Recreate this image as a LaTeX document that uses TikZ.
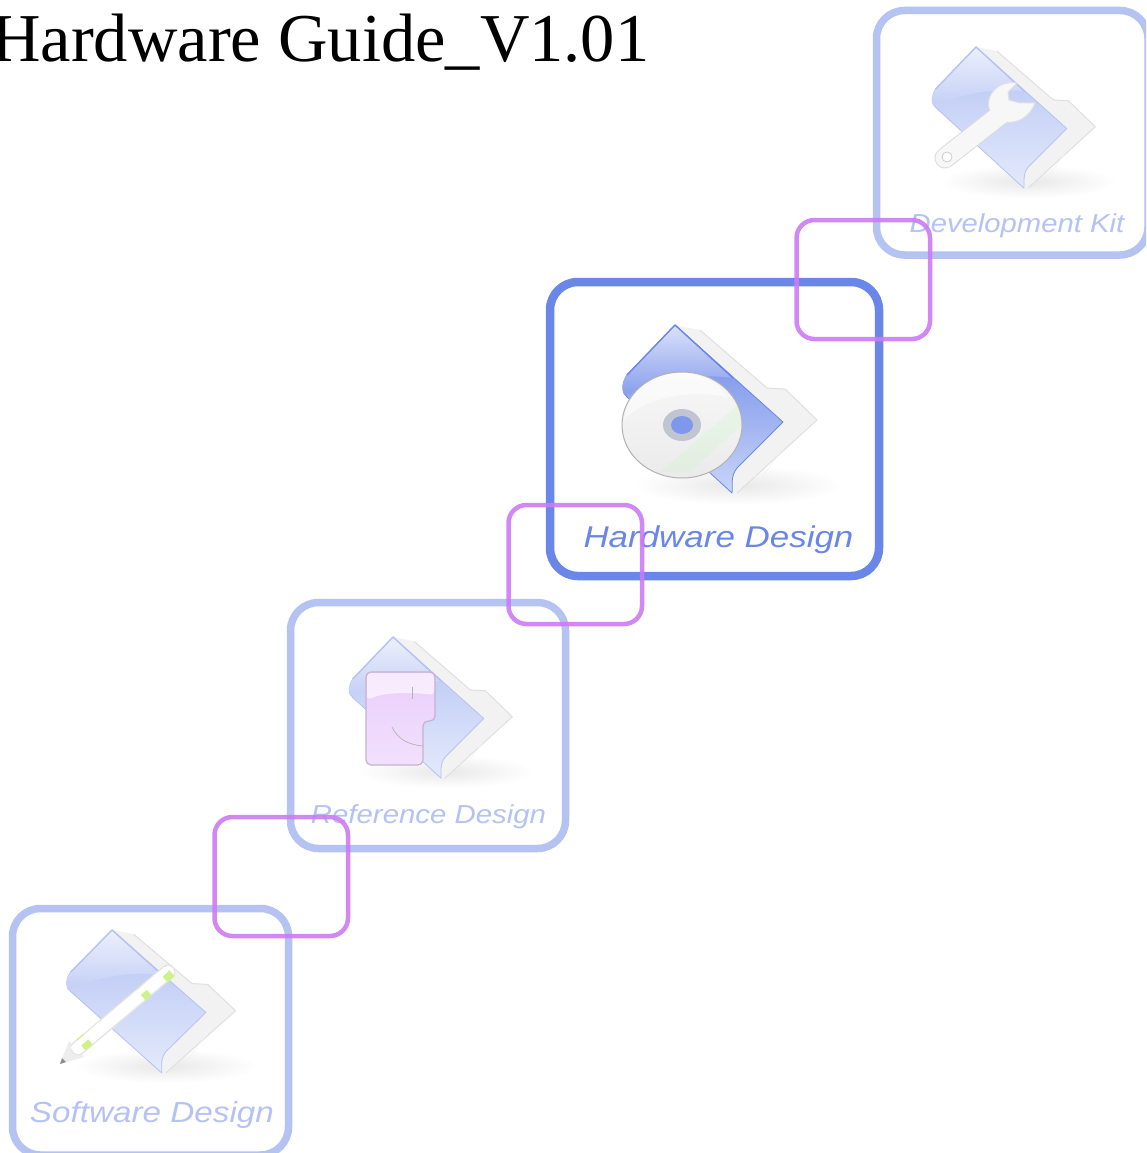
\documentclass[tikz,border=0pt]{standalone}
\usepackage{graphicx}
\usepackage{fontspec}
\setmainfont{Liberation Serif}
\newfontfamily\labelfont{Liberation Sans}
\usetikzlibrary{shadings}
\definecolor{framecol}{HTML}{6A86E8}
\definecolor{magentaline}{HTML}{CC7CF5}
\definecolor{glosslight}{HTML}{C9D5F7}
\definecolor{finderfill}{HTML}{D9A6F8}
\definecolor{pengreen}{HTML}{B8EE55}
\tikzset{
  frameBox/.style={draw=framecol!#1!white,rounded corners=28pt,inner sep=0pt,outer sep=0pt,fill=white},
  linkBox/.style={draw=magentaline,line width=4.5pt,rounded corners=18pt,inner sep=0pt,outer sep=0pt,opacity=.9},
  iconLabel/.style={font=\labelfont\itshape,inner sep=0pt,anchor=base},
  pics/folder/.style={code={
    \def\fv{#1}
    % ground shadow
    \shade[inner color=black!9!white,outer color=white] (62,160) ellipse [x radius=105pt,y radius=20pt];
    % paper sheets
    \fill[white!95!black] (0,0) -- (25,5) -- (92,63) -- (110,64) -- (142,95) -- (62,168) -- (57,168) -- cycle;
    \draw[black!12!white,line width=1pt] (25,5) -- (92,63) -- (110,64) -- (142,95) -- (62,168);
    \foreach \k in {1,...,5}{\draw[black!5!white,line width=.5pt] (100+\k*6,64+\k*6) -- (55+\k*6,140+\k*3);}
    % folder front
    \shade[top color=framecol!\fv!white,middle color=framecol!\fv!white,bottom color=glosslight!\fv!white,draw=framecol!\fv!white,line width=.8pt,line join=round]
      (0,0) -- (108,97) -- (62,143) .. controls (55,152) and (58,160) .. (57,168) -- (-48,72) .. controls (-54,66) and (-53,58) .. (-48,50) -- cycle;
    % gloss on the folder
    \shade[top color=glosslight!70!white!\fv!white,bottom color=framecol!80!white!\fv!white,line join=round]
      (0,0) -- (58,53) .. controls (25,48) and (-15,55) .. (-51,70) .. controls (-54,64) and (-53,58) .. (-48,50) -- cycle;
    \draw[framecol!\fv!white,line width=1.4pt,line join=round] (-48,50) -- (0,0) -- (58,53);
  }}
}
\begin{document}
\begin{tikzpicture}[x=1pt,y=-1pt]
\clip (0,0) rectangle (1146,1153);
\fill[white] (0,0) rectangle (1146,1153);

% title
\node[font=\fontsize{68.5}{68.5}\selectfont,anchor=base west,inner sep=0pt] (title) at (-9,62) {Hardware Guide\_V1.01};

% frames
\node[frameBox=50,line width=7.5pt,minimum width=271.5pt,minimum height=244.5pt] (devframe) at (1012.25,132.75) {};
\node[frameBox=100,line width=8.5pt,minimum width=329pt,minimum height=294pt] (hwframe) at (714.5,429) {};
\node[frameBox=50,line width=7.5pt,minimum width=275pt,minimum height=246pt] (refframe) at (428,725.5) {};
\node[frameBox=50,line width=7.5pt,minimum width=276pt,minimum height=246.5pt] (swframe) at (150.5,1031.75) {};

% folders
\pic[shift={(675,325)}] {folder=100};
\pic[shift={(976,47)},xscale=.84,yscale=.84] {folder=50};
\pic[shift={(393,637)},xscale=.84,yscale=.84] {folder=50};
\pic[shift={(112,930)},xscale=.87,yscale=.85] {folder=50};

% disc
\shade[top color=white!97!black,bottom color=black!8!white,draw=black!30!white,line width=1pt] (682,425) ellipse [x radius=60pt,y radius=53pt];
\fill[white,opacity=.5] (624,420) .. controls (650,392) and (705,390) .. (728,398) .. controls (715,380) and (700,374) .. (682,373) .. controls (650,373) and (628,392) .. (624,420) -- cycle;
\fill[green!30!white,opacity=.15] (738,405) -- (742,425) -- (690,472) -- (660,472) -- cycle;
\fill[framecol!45!black!30!white] (682,425) ellipse [x radius=19pt,y radius=16pt];
\fill[framecol!85!white] (682,425) ellipse [x radius=11pt,y radius=9pt];

% wrench
\draw[black!14!white,line width=21pt,line cap=round] (945,158) -- (1000,115);
\fill[white!97!black,draw=black!12!white,line width=1pt] (1017,83) .. controls (998,80) and (984,95) .. (990,112) .. controls (998,127) and (1026,127) .. (1035,103) -- (1020,103) -- (1009,100) -- (1008,92) -- cycle;
\draw[white!97!black,line width=19pt,line cap=round] (945,158) -- (1000,115);
\draw[black!20!white,line width=.8pt,fill=white] (947,157) circle [radius=5pt];

% finder face
\shade[top color=finderfill!55!white,bottom color=finderfill!35!white,draw=finderfill!50!gray!70!white,line width=1.2pt,rounded corners=5pt]
  (366,672) -- (435,672) -- (435,721) -- (423,721) -- (423,765) -- (366,765) -- cycle;
\fill[white,opacity=.6,rounded corners=4pt] (367,673) -- (434,673) -- (434,695) .. controls (410,692) and (385,692) .. (367,700) -- cycle;
\draw[black!30!white,line width=1pt] (412,687) -- (412,699);
\draw[black!30!white,line width=.7pt] (392,727) .. controls (398,740) and (410,745) .. (423,746);

% pen
\fill[white!93!black] (60,1064) -- (69,1041) -- (84,1057) -- cycle;
\fill[black!45!white] (60,1064) -- (62,1058) -- (66,1062) -- cycle;
\draw[black!10!white,line width=15pt,line cap=round] (78,1048) -- (168,972);
\draw[white,line width=12pt,line cap=round] (78,1048) -- (168,972);
\foreach \a/\b/\c/\d in {81/1045/88/1039,141/995/147/990,163/977/170/971}{
  \draw[pengreen!70!white,line width=14pt] (\a,\b) -- (\c,\d);
}
\draw[white,line width=6pt,line cap=round] (74,1047.5) -- (166,969.5);

% labels
\node[iconLabel,text=framecol,font=\labelfont\itshape\fontsize{30}{30}\selectfont] (hwlabel) at (718.5,547) {\scalebox{1.165}[1]{Hardware Design}};
\node[iconLabel,text=framecol!50!white,font=\labelfont\itshape\fontsize{26}{26}\selectfont] (devlabel) at (1017,232) {\scalebox{1.126}[1]{Development Kit}};
\node[iconLabel,text=framecol!50!white,font=\labelfont\itshape\fontsize{26}{26}\selectfont] (reflabel) at (428.5,823) {\scalebox{1.13}[1]{Reference Design}};
\node[iconLabel,text=framecol!50!white,font=\labelfont\itshape\fontsize{29}{29}\selectfont] (swlabel) at (152,1122) {\scalebox{1.147}[1]{Software Design}};

% link boxes
\node[linkBox,minimum width=133.5pt,minimum height=119pt] (linkone) at (863.25,279.5) {};
\node[linkBox,minimum width=133.5pt,minimum height=119pt] (linktwo) at (575.25,564.5) {};
\node[linkBox,minimum width=133.5pt,minimum height=119pt] (linkthree) at (281.25,876.5) {};
\end{tikzpicture}
\end{document}
